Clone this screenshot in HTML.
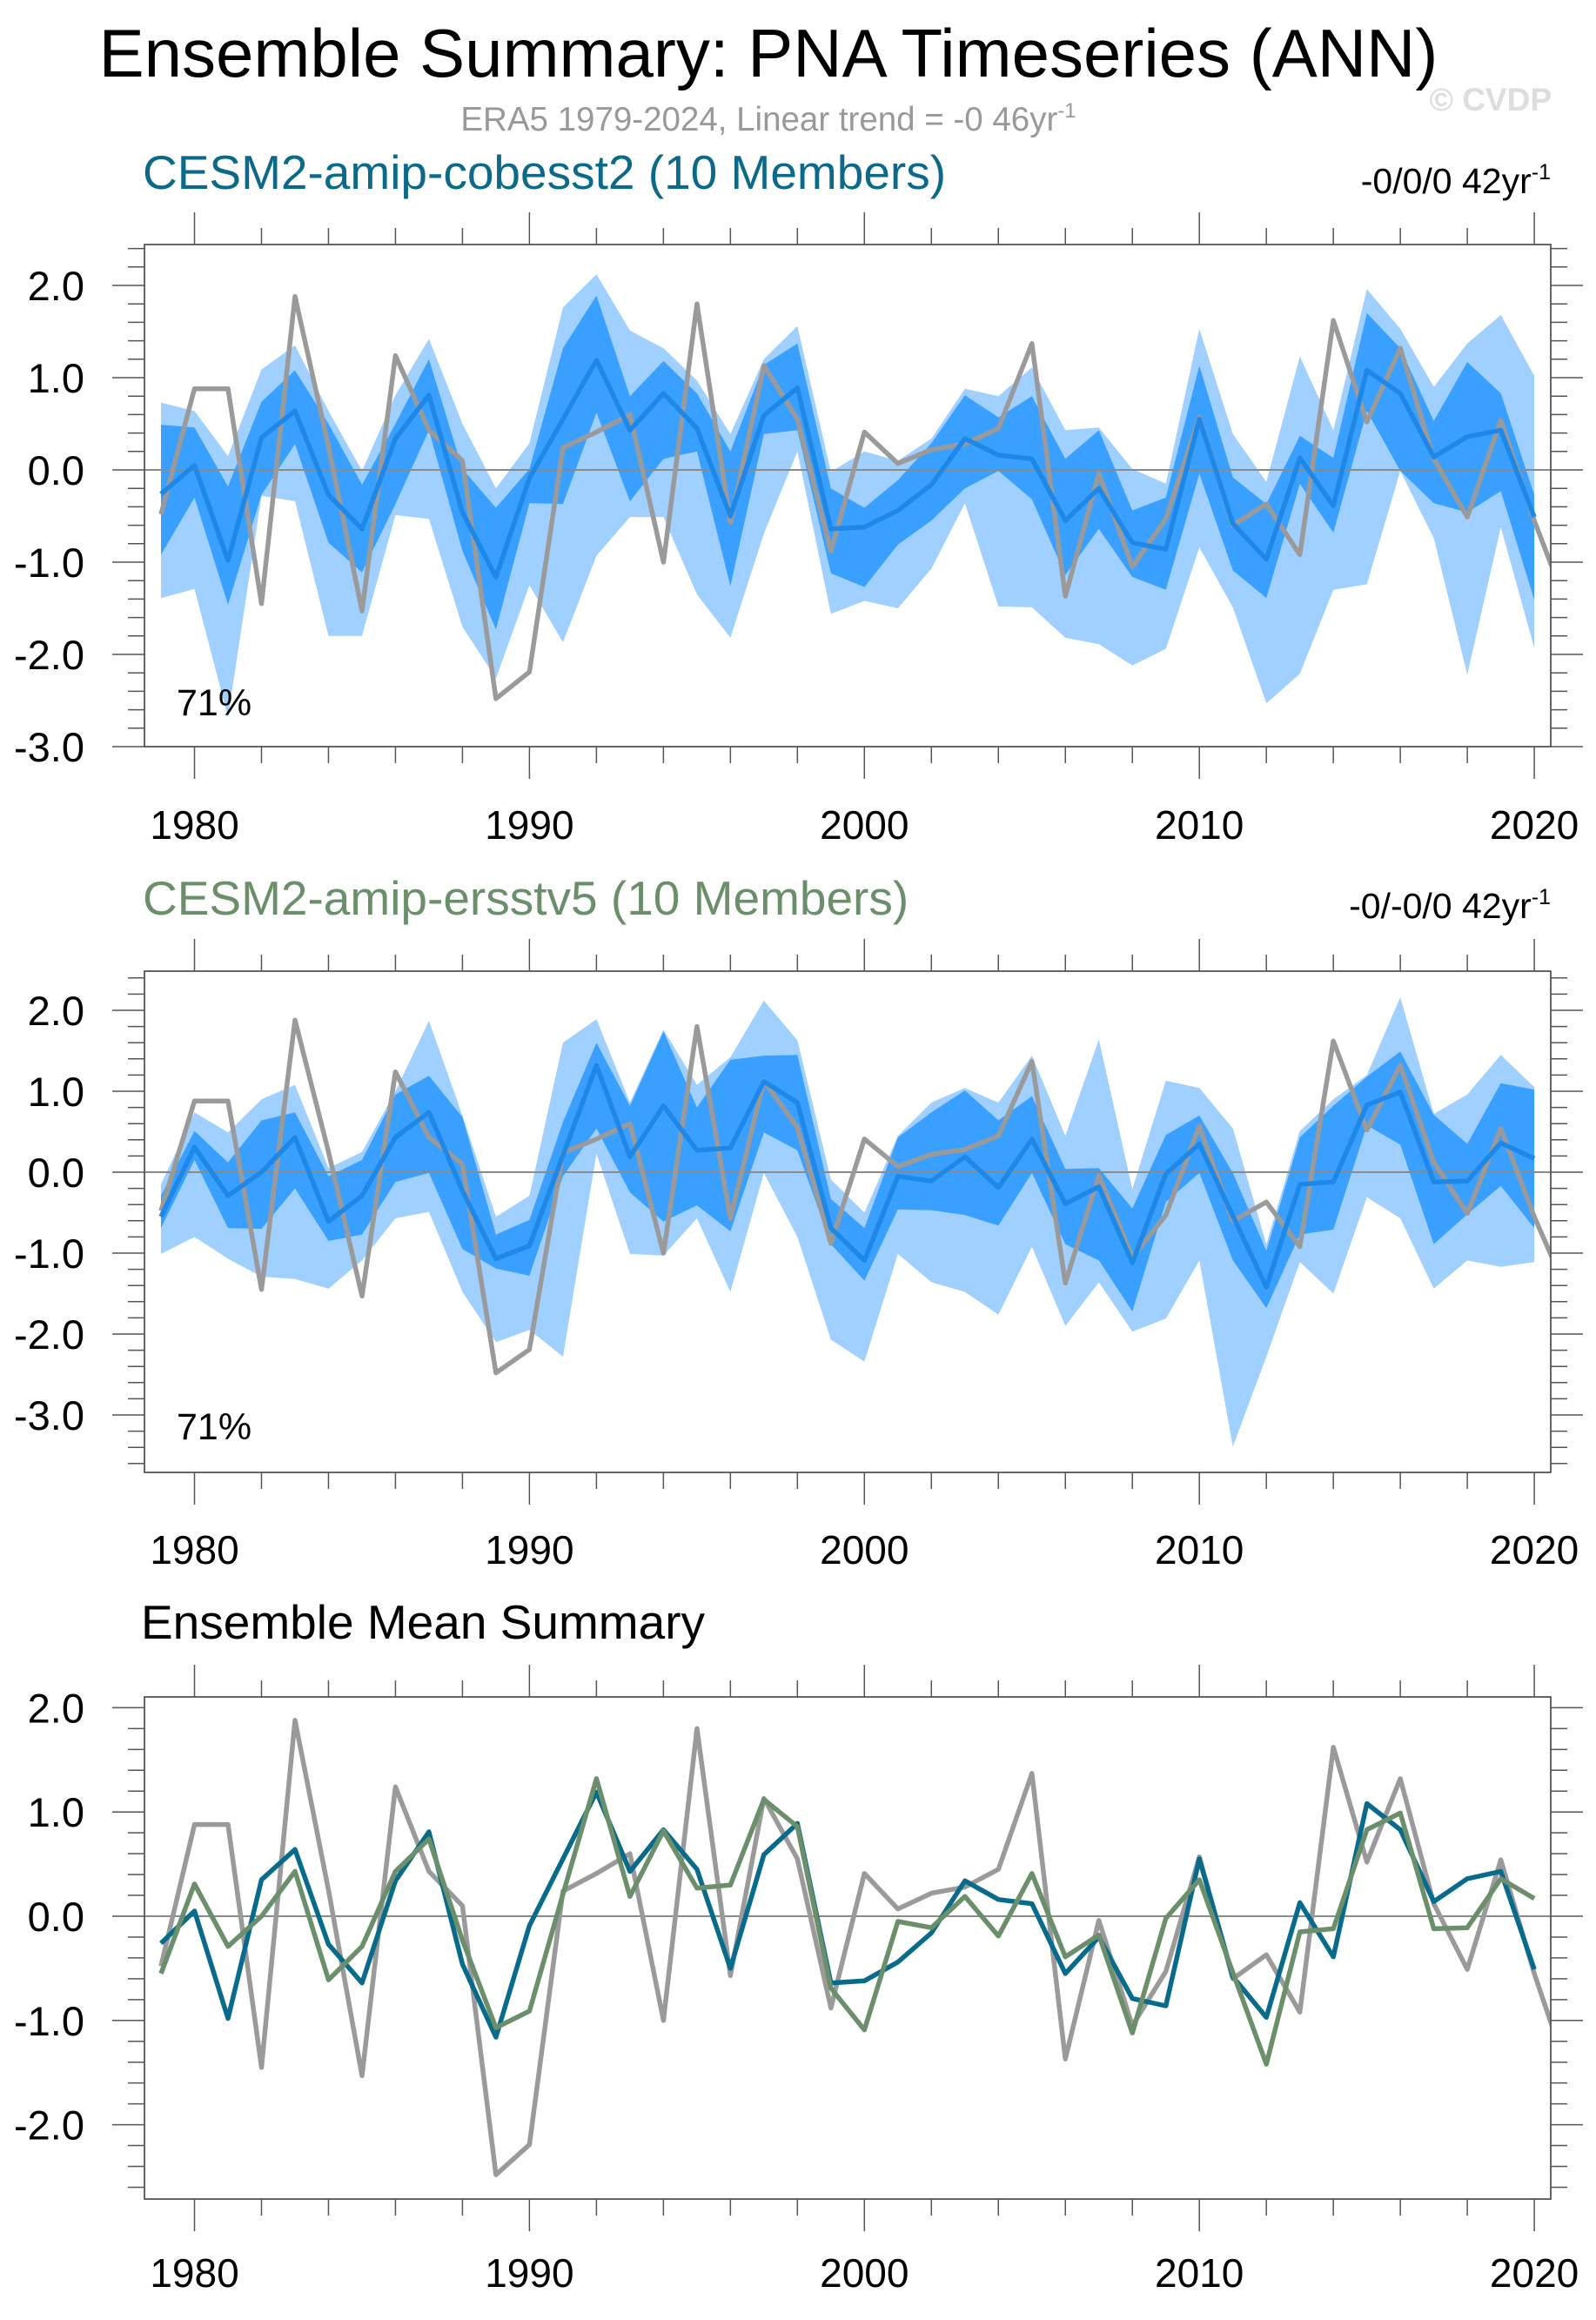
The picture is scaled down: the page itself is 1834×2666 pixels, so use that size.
<!DOCTYPE html>
<html><head><meta charset="utf-8">
<style>
html,body{margin:0;padding:0;background:#fff;}
svg{display:block;}
text{font-family:"Liberation Sans",sans-serif;}
</style></head>
<body>
<svg id="chart" xmlns="http://www.w3.org/2000/svg" width="1834" height="2666" viewBox="0 0 1834 2666">
<rect x="0" y="0" width="1834" height="2666" fill="#fff"/>
<text x="883" y="88" font-size="78" text-anchor="middle" fill="#000">Ensemble Summary: PNA Timeseries (ANN)</text>
<text x="883" y="150" font-size="38.5" text-anchor="middle" fill="#999">ERA5 1979-2024, Linear trend = -0 46yr<tspan dy="-15" font-size="24">-1</tspan></text>
<text x="1783" y="127" font-size="37" font-weight="bold" text-anchor="end" fill="#ddd">© CVDP</text>
<text x="164" y="217" font-size="55" fill="#0b6a8a">CESM2-amip-cobesst2 (10 Members)</text>
<text x="1782" y="222" font-size="41" text-anchor="end" fill="#000">-0/0/0 42yr<tspan dy="-16" font-size="25">-1</tspan></text>
<text x="164" y="1051" font-size="55" fill="#6a8f6a">CESM2-amip-ersstv5 (10 Members)</text>
<text x="1782" y="1055" font-size="41" text-anchor="end" fill="#000">-0/-0/0 42yr<tspan dy="-16" font-size="25">-1</tspan></text>
<text x="162" y="1883" font-size="55" fill="#000">Ensemble Mean Summary</text>
<g id="plots"></g>
</svg>
<script>
const years = [1979,1980,1981,1982,1983,1984,1985,1986,1987,1988,1989,1990,1991,1992,1993,1994,1995,1996,1997,1998,1999,2000,2001,2002,2003,2004,2005,2006,2007,2008,2009,2010,2011,2012,2013,2014,2015,2016,2017,2018,2019,2020];
const era5Years = [1979,1980,1981,1982,1983,1984,1985,1986,1987,1988,1989,1990,1991,1992,1993,1994,1995,1996,1997,1998,1999,2000,2001,2002,2003,2004,2005,2006,2007,2008,2009,2010,2011,2012,2013,2014,2015,2016,2017,2018,2019,2020,2021];
const era5Values = [-0.48,0.88,0.88,-1.45,1.88,0.25,-1.53,1.24,0.43,0.10,-2.48,-2.19,0.24,0.41,0.60,-1.00,1.80,-0.57,1.13,0.55,-0.88,0.41,0.07,0.22,0.28,0.45,1.37,-1.37,-0.04,-1.05,-0.53,0.57,-0.60,-0.37,-0.92,1.62,0.52,1.32,0.12,-0.51,0.54,-0.55,-1.5];

const cobLightTop = [0.73,0.64,0.15,1.09,1.35,0.64,-0.01,0.81,1.42,0.50,-0.20,0.29,1.76,2.12,1.51,1.32,0.97,0.39,1.20,1.56,-0.02,0.20,0.10,0.34,0.88,0.80,1.11,0.43,0.46,0.01,-0.15,1.53,0.39,-0.13,1.23,0.43,1.96,1.53,0.90,1.37,1.68,1.02];
const cobDarkTop = [0.49,0.46,-0.18,0.74,1.08,0.50,-0.16,0.50,1.20,0.01,-0.41,0.01,1.32,1.89,0.80,1.18,0.83,0.20,1.14,1.37,-0.20,-0.41,-0.11,0.29,0.81,0.57,0.80,0.12,0.43,-0.44,-0.30,1.13,-0.08,-0.37,0.37,0.13,1.70,1.32,0.53,1.17,0.83,-0.27];
const cobMean = [-0.26,0.05,-0.98,0.35,0.64,-0.27,-0.64,0.34,0.81,-0.46,-1.16,-0.09,0.55,1.19,0.43,0.83,0.45,-0.50,0.59,0.89,-0.64,-0.62,-0.44,-0.16,0.34,0.16,0.12,-0.55,-0.20,-0.79,-0.86,0.55,-0.58,-0.97,0.13,-0.39,1.08,0.83,0.14,0.36,0.43,-0.51];
const cobDarkBot = [-0.92,-0.30,-1.46,-0.27,0.28,-0.79,-1.11,-0.37,0.43,-0.88,-1.73,-0.36,-0.37,0.62,-0.34,0.12,0.20,-1.26,0.39,0.43,-1.12,-1.27,-0.81,-0.55,-0.20,-0.01,-0.32,-1.14,-0.64,-1.16,-1.30,-0.04,-1.09,-1.39,-0.15,-0.68,0.64,-0.01,-0.36,-0.46,-0.23,-1.41];
const cobLightBot = [-1.39,-1.29,-2.68,-0.28,-0.34,-1.80,-1.80,-0.49,-0.53,-1.70,-2.26,-1.25,-1.87,-0.93,-0.51,-0.51,-1.35,-1.82,-0.69,0.20,-1.56,-1.42,-1.50,-1.07,-0.36,-1.48,-1.49,-1.82,-1.89,-2.12,-1.94,-0.84,-1.49,-2.53,-2.21,-1.30,-1.24,-0.01,-0.74,-2.22,-0.62,-1.93];

const ersLightTop = [-0.15,0.74,0.49,0.90,1.08,0.05,0.25,1.00,1.87,0.70,-0.55,-0.29,1.60,1.89,0.86,1.76,1.08,1.42,2.12,1.63,-0.09,-0.50,0.45,0.86,1.04,0.86,1.44,0.45,1.64,-0.21,1.13,1.04,0.54,-0.89,0.51,0.90,1.20,2.16,0.72,0.96,1.45,1.05];
const ersDarkTop = [-0.29,0.51,0.12,0.64,0.74,-0.05,0.15,0.96,1.19,0.68,-0.77,-0.59,0.62,1.60,0.82,1.74,0.80,1.39,1.44,1.45,-0.33,-0.69,0.43,0.74,1.01,0.64,0.94,0.04,0.05,-0.45,0.46,0.70,-0.01,-0.97,0.43,0.82,1.18,1.49,0.71,0.35,1.10,1.02];
const ersMean = [-0.55,0.31,-0.29,0.00,0.43,-0.61,-0.29,0.43,0.74,-0.23,-1.07,-0.91,0.21,1.32,0.19,0.82,0.27,0.30,1.12,0.86,-0.69,-1.09,-0.05,-0.11,0.19,-0.19,0.41,-0.39,-0.18,-1.12,-0.02,0.35,-0.54,-1.42,-0.15,-0.12,0.83,0.99,-0.12,-0.11,0.36,0.17];
const ersDarkBot = [-0.69,0.15,-0.69,-0.70,-0.20,-0.85,-0.77,-0.12,-0.01,-0.95,-1.19,-1.28,-0.05,0.54,-0.25,-0.61,-0.41,-0.73,0.49,0.27,-0.89,-1.34,-0.46,-0.47,-0.53,-0.66,-0.01,-0.89,-1.09,-1.72,-0.37,-0.01,-1.09,-1.68,-0.77,-0.71,0.58,0.34,-0.89,-0.52,-0.17,-0.69];
const ersLightBot = [-1.01,-0.80,-1.07,-1.29,-1.32,-1.44,-1.09,-0.57,-0.49,-1.48,-2.10,-1.95,-2.28,0.23,-1.01,-1.03,-0.57,-1.48,-0.01,-0.80,-2.07,-2.34,-1.01,-1.36,-1.48,-1.76,-0.92,-1.90,-1.36,-1.97,-1.81,-1.09,-3.39,-2.28,-1.11,-1.50,-0.31,-0.57,-1.44,-1.09,-1.17,-1.11];

const xTickYears = [1980,1990,2000,2010,2020];
const xTickLabels = ["1980","1990","2000","2010","2020"];
const yTicks12 = [2,1,0,-1,-2,-3];
const yTickLabels12 = ["2.0","1.0","0.0","-1.0","-2.0","-3.0"];
const yTicks3 = [2,1,0,-1,-2];
const yTickLabels3 = ["2.0","1.0","0.0","-1.0","-2.0"];

const NS = "http://www.w3.org/2000/svg";
const root = document.getElementById("plots");
function mk(tag, attrs, parent){
  const e = document.createElementNS(NS, tag);
  for (const k in attrs) e.setAttribute(k, attrs[k]);
  (parent||root).appendChild(e);
  return e;
}
const X0 = 166, X1 = 1782;
function xScale(yr){ return 223.5 + (yr - 1980) * 38.49; }

function makePanel(id, cfg){
  const g = mk("g", {});
  
  
  const yS = v => cfg.zeroY - v * cfg.unit;
  const clip = mk("clipPath", {id: id + "-clip"}, g);
  mk("rect", {x: X0, y: cfg.top, width: X1 - X0, height: cfg.bot - cfg.top}, clip);
  const inner = mk("g", {"clip-path": "url(#" + id + "-clip)"}, g);
  function band(top, bot, color, name){
    let d = "";
    years.forEach((yr, i) => { d += (i ? "L" : "M") + xScale(yr).toFixed(1) + "," + yS(top[i]).toFixed(1); });
    for (let i = years.length - 1; i >= 0; i--) d += "L" + xScale(years[i]).toFixed(1) + "," + yS(bot[i]).toFixed(1);
    const p = mk("path", {d: d + "Z", fill: color}, inner);
    
    
  }
  function line(xs, vals, color, w, name){
    const pts = xs.map((yr, i) => xScale(yr).toFixed(1) + "," + yS(vals[i]).toFixed(1)).join(" ");
    const p = mk("polyline", {points: pts, fill: "none", stroke: color, "stroke-width": w, "stroke-linejoin": "round"}, inner);
    
    
  }
  if (cfg.bands) {
    band(cfg.bands[0], cfg.bands[4], "#a0d0ff", id + "-outer-range-band");
    band(cfg.bands[1], cfg.bands[3], "#3aa0ff", id + "-inner-range-band");
  }
  const zl = mk("line", {x1: X0, x2: X1, y1: yS(0), y2: yS(0), stroke: "#8a8a8a", "stroke-width": 2}, inner);
  
  
  cfg.lines.forEach(l => line(l.xs, l.vals, l.color, l.w, l.name));
  const fr = mk("rect", {x: X0, y: cfg.top, width: X1 - X0, height: cfg.bot - cfg.top, fill: "none", stroke: "#555", "stroke-width": 1.8}, g);
  
  
  for (let yr = 1980; yr <= 2020; yr += 2) {
    const major = (yr % 10 === 0), L = major ? 37 : 19, x = xScale(yr);
    mk("line", {x1: x, x2: x, y1: cfg.top - L, y2: cfg.top, stroke: "#555", "stroke-width": 1.5}, g);
    mk("line", {x1: x, x2: x, y1: cfg.bot, y2: cfg.bot + L, stroke: "#555", "stroke-width": 1.5}, g);
  }
  xTickYears.forEach((yr, i) => {
    const t = mk("text", {x: xScale(yr), y: cfg.xLabelY, "font-size": 46, "text-anchor": "middle", fill: "#000"}, g);
    t.textContent = xTickLabels[i];
    
    
  });
  for (let k = Math.floor(cfg.vmax * 5); k >= Math.ceil(cfg.vmin * 5); k--) {
    const v = k / 5, y = yS(v), major = (k % 5 === 0), L = major ? 37 : 19;
    mk("line", {x1: X0 - L, x2: X0, y1: y, y2: y, stroke: "#555", "stroke-width": 1.5}, g);
    mk("line", {x1: X1, x2: X1 + L, y1: y, y2: y, stroke: "#555", "stroke-width": 1.5}, g);
  }
  cfg.yTicks.forEach((v, i) => {
    const t = mk("text", {x: 97, y: yS(v) + 17, "font-size": 47, "text-anchor": "end", fill: "#000"}, g);
    t.textContent = cfg.yLabels[i];
    
    
  });
  if (cfg.pct) {
    const t = mk("text", {x: 203, y: cfg.pctY, "font-size": 43, fill: "#000"}, g);
    t.textContent = cfg.pct;
    
    
  }
}

makePanel("panel1", {top: 281, bot: 858, zeroY: 540, unit: 106, vmax: 2.44, vmin: -3.0,
  xLabelY: 964, yTicks: yTicks12, yLabels: yTickLabels12, pct: "71%", pctY: 822,
  bands: [cobLightTop, cobDarkTop, cobMean, cobDarkBot, cobLightBot],
  lines: [
    {xs: era5Years, vals: era5Values, color: "#9a9a9a", w: 5.5, name: "panel1-era5-line"},
    {xs: years, vals: cobMean, color: "#1e88e8", w: 5.5, name: "panel1-ensemble-mean-line"}
  ]});
makePanel("panel2", {top: 1116, bot: 1692, zeroY: 1347, unit: 93, vmax: 2.48, vmin: -3.7,
  xLabelY: 1797, yTicks: yTicks12, yLabels: yTickLabels12, pct: "71%", pctY: 1654,
  bands: [ersLightTop, ersDarkTop, ersMean, ersDarkBot, ersLightBot],
  lines: [
    {xs: era5Years, vals: era5Values, color: "#9a9a9a", w: 5.5, name: "panel2-era5-line"},
    {xs: years, vals: ersMean, color: "#1e88e8", w: 5.5, name: "panel2-ensemble-mean-line"}
  ]});
makePanel("panel3", {top: 1950, bot: 2527, zeroY: 2202, unit: 119.8, vmax: 2.1, vmin: -2.7,
  xLabelY: 2628, yTicks: yTicks3, yLabels: yTickLabels3,
  lines: [
    {xs: era5Years, vals: era5Values, color: "#9a9a9a", w: 5.5, name: "panel3-era5-line"},
    {xs: years, vals: cobMean, color: "#086b8c", w: 5.5, name: "panel3-cobesst2-mean-line"},
    {xs: years, vals: ersMean, color: "#6a8f6a", w: 5.5, name: "panel3-ersstv5-mean-line"}
  ]});
</script>
</body></html>
